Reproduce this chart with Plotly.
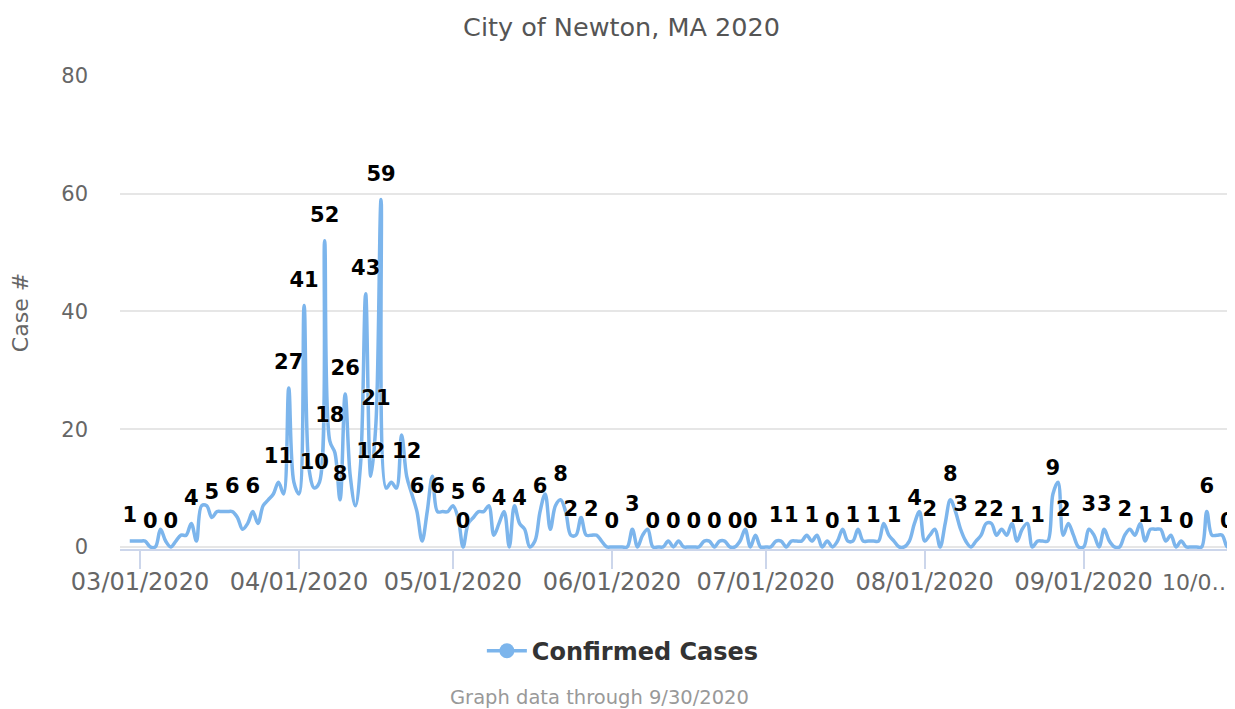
import pandas as pd
import plotly.graph_objects as go

# ---- data -------------------------------------------------------------
start_date = "2020-02-28"
cases = [
    1, 1,                                            # 2/28, 2/29
    1, 1, 0, 0, 3, 1, 0, 1, 2, 2, 4, 1, 7, 7, 5, 6,  # 3/1 - 3/16
    6, 6, 6, 5, 3, 4, 6, 4, 7, 8, 9, 11, 9, 27, 11,  # 3/17 - 3/31
    9, 41, 13, 10, 11, 52, 18, 16, 8, 26, 12, 7, 14, 43, 12,   # 4/1 - 4/15
    21, 59, 10, 11, 10, 19, 12, 9, 6, 1, 6, 12, 6, 6, 6,       # 4/16 - 4/30
    7, 5, 0, 4, 5, 6, 6, 7, 2, 4, 6, 0, 7, 4, 3, 0,  # 5/1 - 5/16
    1, 6, 9, 3, 7, 8, 6, 2, 2, 5, 2, 2, 2, 1, 0,     # 5/17 - 5/31
    0, 0, 0, 0, 3, 0, 2, 3, 0, 0, 0, 1, 0, 1, 0,     # 6/1 - 6/15
    0, 0, 0, 1, 1, 0, 1, 1, 0, 0, 1, 3, 0, 2, 0,     # 6/16 - 6/30
    0, 0, 1, 1, 0, 1, 1, 1, 2, 1, 2, 0, 1, 0, 1, 3,  # 7/1 - 7/16
    1, 1, 3, 1, 1, 1, 1, 4, 2, 1, 0, 0, 1, 4, 6,     # 7/17 - 7/31
    1, 2, 3, 0, 4, 8, 6, 3, 1, 0, 1, 2, 4, 4, 2, 3,  # 8/1 - 8/16
    2, 4, 1, 3, 4, 0, 1, 1, 1, 9, 11, 2, 4, 2, 0,    # 8/17 - 8/31
    0, 3, 2, 0, 3, 1, 0, 0, 2, 3, 2, 4, 1, 3, 3,     # 9/1 - 9/15
    3, 1, 2, 0, 1, 0, 0, 0, 0, 6, 2, 2, 2, 0, 1,     # 9/16 - 9/30
]
dates = pd.date_range(start_date, periods=len(cases), freq="D")

# days (from 03/01/2020) whose value carries a data label
label_days = [-2, 2, 6, 10, 14, 18, 22, 27, 29, 32, 34, 36, 37, 39, 40, 44, 45,
              46, 47, 52, 54, 58, 62, 63, 66, 70, 74, 78, 82, 84, 88, 92, 96,
              100, 104, 108, 112, 116, 119, 124, 127, 131, 135, 139, 143, 147,
              151, 154, 158, 160, 164, 167, 171, 175, 178, 180, 185, 188, 192,
              196, 200, 204, 208, 212]

tick_dates = ["2020-03-01", "2020-04-01", "2020-05-01", "2020-06-01",
              "2020-07-01", "2020-08-01", "2020-09-01"]
tick_text = ["03/01/2020", "04/01/2020", "05/01/2020", "06/01/2020",
             "07/01/2020", "08/01/2020", "09/01/2020"]
y_ticks = [0, 20, 40, 60, 80]

series_name = "Confirmed Cases"
title_text = "City of Newton, MA 2020"
caption_text = "Graph data through 9/30/2020"
last_tick_text = "10/0\u2026"

# ---- figure ------------------------------------------------------------
offset = 2  # index of 03/01 in the series
lab_idx = [d + offset for d in label_days]
lab_x = [dates[i] for i in lab_idx]
lab_y = [cases[i] for i in lab_idx]

LINE = "#7cb5ec"
FONT = "DejaVu Sans"
fig = go.Figure()

fig.add_trace(go.Scatter(
    x=dates, y=cases, mode="lines",
    line=dict(color=LINE, width=3.5, shape="spline", smoothing=1),
    showlegend=False, hoverinfo="x+y",
))

fig.add_trace(go.Scatter(
    x=lab_x, y=lab_y, mode="markers+text", text=[str(v) for v in lab_y],
    textposition="top center",
    marker=dict(size=20, opacity=0),
    textfont=dict(family=FONT, size=21, color="#000000", weight="bold",
                  shadow="0px 0px 2px #ffffff"),
    cliponaxis=False, showlegend=False, hoverinfo="skip",
))

# legend-only entry
fig.add_trace(go.Scatter(
    x=[None], y=[None], mode="lines+markers", name=series_name,
    line=dict(color=LINE, width=3.5), marker=dict(color=LINE, size=15, symbol="circle"),
))

x_min = pd.Timestamp("2020-03-01") - pd.Timedelta(hours=3.9 * 24)
x_max = pd.Timestamp("2020-03-01") + pd.Timedelta(hours=213.5 * 24)

# page body has an 8px margin; figure is sized/positioned to compensate
fig.update_layout(
    width=1227, height=701,
    margin=dict(l=112, r=0, t=68, b=160),
    paper_bgcolor="white", plot_bgcolor="white",
    title=dict(text=title_text, x=0.5, xanchor="center", y=0.973, yanchor="middle",
               font=dict(family=FONT, size=25.5, color="#555555")),
    xaxis=dict(
        range=[x_min, x_max], tickmode="array", tickvals=tick_dates, ticktext=tick_text,
        showgrid=False, showline=True, linecolor="#ccd6eb", linewidth=2,
        ticks="outside", ticklen=18, tickwidth=2, tickcolor="#ccd6eb",
        ticklabelstandoff=-8,
        tickfont=dict(family=FONT, size=24, color="#666666"),
        zeroline=False,
    ),
    yaxis=dict(
        range=[-0.35, 80], tickmode="array", tickvals=y_ticks,
        showgrid=True, gridcolor="#e6e6e6", gridwidth=2, zeroline=False,
        showline=False, ticks="", ticklabelstandoff=31,
        tickfont=dict(family=FONT, size=21, color="#666666"),
        title=dict(text="Case #", standoff=26,
                   font=dict(family=FONT, size=22, color="#666666")),
    ),
    legend=dict(orientation="h", x=0.451, xanchor="center", y=-0.216, yanchor="middle",
                font=dict(family=FONT, size=24, color="#333333", weight="bold"),
                itemwidth=40),
    annotations=[
        dict(text=last_tick_text, xref="paper", yref="paper", x=1.0, xanchor="right",
             y=-0.071, yanchor="middle", showarrow=False,
             font=dict(family=FONT, size=22, color="#666666")),
        dict(text=caption_text, xref="paper", yref="paper", x=0.4296, xanchor="center",
             y=-0.3135, yanchor="middle", showarrow=False,
             font=dict(family=FONT, size=19.5, color="#999999")),
    ],
)

fig.write_html("out.html")
